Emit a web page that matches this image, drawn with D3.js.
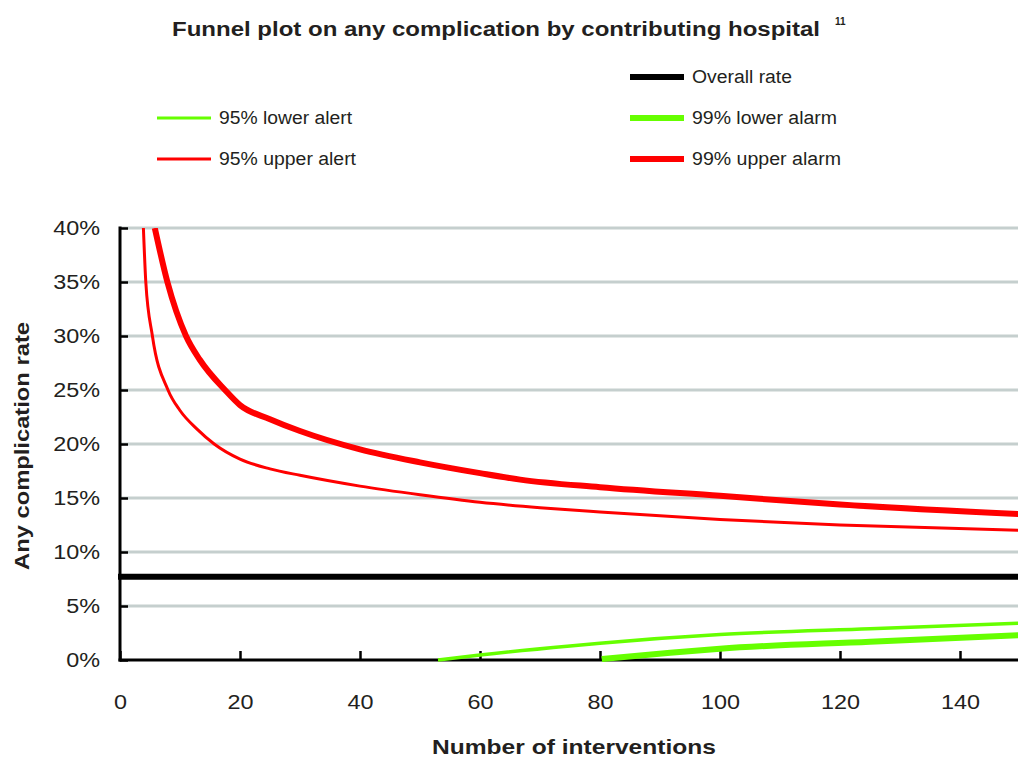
<!DOCTYPE html>
<html>
<head>
<meta charset="utf-8">
<script src="https://cdn.jsdelivr.net/npm/d3@7"></script>
<style>
  body { margin: 0; background: #fff; }
  text { font-family: "Liberation Sans", Arial, sans-serif; fill: #231f20; }
</style>
</head>
<body>
<svg id="chart" width="1018" height="758"></svg>
<script>
// ---- data (n = number of interventions, rate in %) ----
var overallRate = 7.7;

var upper95N    = [3.9, 4.3, 5.4, 8, 10, 12.8, 15.7, 20, 25, 30, 40, 50, 60, 70, 80, 100, 120, 150];
var upper95Rate = [40, 35, 30, 25, 23.1, 21.4, 20, 18.6, 17.7, 17.1, 16.1, 15.3, 14.6, 14.1, 13.7, 13.0, 12.5, 12.0];

var upper99N    = [5.8, 7.9, 11, 13.3, 17.5, 20, 25, 30, 40, 50, 60, 66.7, 80, 100, 120, 150];
var upper99Rate = [40, 35, 30, 27.8, 25, 23.6, 22.3, 21.2, 19.5, 18.3, 17.3, 16.7, 16.0, 15.2, 14.4, 13.5];

var lower95N    = [53, 60, 75, 80, 100, 125, 150];
var lower95Rate = [0, 0.46, 1.3, 1.55, 2.35, 2.9, 3.4];

var lower99N    = [80.3, 91.7, 100, 125, 150];
var lower99Rate = [0.1, 0.68, 1.05, 1.7, 2.3];

var xTickValues = [0, 20, 40, 60, 80, 100, 120, 140];
var yTickValues = [0, 5, 10, 15, 20, 25, 30, 35, 40];

var legendLabels = ["Overall rate", "95% lower alert", "95% upper alert", "99% lower alarm", "99% upper alarm"];

// ---- layout ----
var svg = d3.select("#chart");
var width = 1018;

var x = d3.scaleLinear().domain([0, 150]).range([120, 1020]);
var y = d3.scaleLinear().domain([0, 40]).range([660, 228]);

var red = "#ff0000";
var green = "#66ff00";

// the source picture is stretched sideways, so widen text to match
function stretch(sel, k) {
  sel.each(function() {
    var len = this.getComputedTextLength();
    d3.select(this)
      .attr("textLength", len * k)
      .attr("lengthAdjust", "spacingAndGlyphs");
  });
}
function fitWidth(sel, w) {
  sel.attr("textLength", w).attr("lengthAdjust", "spacingAndGlyphs");
}

// title
svg.append("text")
  .attr("x", 172)
  .attr("y", 36)
  .style("font-weight", "bold")
  .style("font-size", "20px")
  .text("Funnel plot on any complication by contributing hospital")
  .call(fitWidth, 648);
svg.append("text")
  .attr("x", 835)
  .attr("y", 25)
  .style("font-weight", "bold")
  .style("font-size", "10px")
  .text("11");

// legend
var legendItems = [
  { label: legendLabels[0], color: "#000", w: 6, lx: 630, ly: 77, tw: 100 },
  { label: legendLabels[1], color: green, w: 3, lx: 157, ly: 118, tw: 133 },
  { label: legendLabels[2], color: red, w: 3, lx: 157, ly: 159, tw: 137 },
  { label: legendLabels[3], color: green, w: 6, lx: 630, ly: 118, tw: 145 },
  { label: legendLabels[4], color: red, w: 6, lx: 630, ly: 159, tw: 149 }
];
var legend = svg.append("g");
legendItems.forEach(function(d) {
  legend.append("line")
    .attr("x1", d.lx).attr("x2", d.lx + 54)
    .attr("y1", d.ly).attr("y2", d.ly)
    .attr("stroke", d.color)
    .attr("stroke-width", d.w);
  legend.append("text")
    .attr("x", d.lx + 62)
    .attr("y", d.ly + 6)
    .style("font-size", "18px")
    .text(d.label)
    .call(fitWidth, d.tw);
});

// gridlines
svg.append("g")
  .selectAll("line")
  .data(yTickValues.filter(function(v) { return v > 0; }))
  .enter()
  .append("line")
  .attr("x1", 121)
  .attr("x2", width)
  .attr("y1", function(d) { return y(d); })
  .attr("y2", function(d) { return y(d); })
  .attr("stroke", "#c5cfce")
  .attr("stroke-width", 3);

// axes
var leftAxis = d3.axisLeft(y)
  .tickValues(yTickValues)
  .tickSize(-8)
  .tickSizeOuter(0)
  .tickPadding(20)
  .tickFormat(function(d) { return d + "%"; });
var bottomAxis = d3.axisBottom(x)
  .tickValues(xTickValues)
  .tickSize(-9)
  .tickSizeOuter(0)
  .tickPadding(35);

var yAxis = svg.append("g")
  .attr("transform", "translate(120,0)")
  .call(leftAxis);
var xAxis = svg.append("g")
  .attr("transform", "translate(0,660)")
  .call(bottomAxis);

[yAxis, xAxis].forEach(function(ax) {
  ax.select(".domain").attr("stroke", "#000").attr("stroke-width", 3);
  ax.selectAll(".tick line").attr("stroke", "#000").attr("stroke-width", 2.5);
  ax.selectAll(".tick text")
    .attr("fill", "#231f20")
    .style("font-size", "20px")
    .style("font-family", "\"Liberation Sans\", Arial, sans-serif")
    .call(stretch, 1.17);
});
yAxis.select(".domain").attr("d", "M0,226.5V661.5");
xAxis.select(".domain").attr("d", "M118.5,0H1018");

// axis titles
svg.append("text")
  .attr("x", 574)
  .attr("y", 754)
  .attr("text-anchor", "middle")
  .style("font-weight", "bold")
  .style("font-size", "21px")
  .text("Number of interventions")
  .call(fitWidth, 284);
svg.append("text")
  .attr("transform", "translate(29,446) rotate(-90)")
  .attr("text-anchor", "middle")
  .style("font-weight", "bold")
  .style("font-size", "21px")
  .text("Any complication rate")
  .call(fitWidth, 248);

// series
svg.append("clipPath").attr("id", "plotClip")
  .append("rect").attr("x", 118).attr("y", 228).attr("width", 910).attr("height", 436);
var plot = svg.append("g").attr("clip-path", "url(#plotClip)");

var line = d3.line()
  .x(function(d) { return x(d[0]); })
  .y(function(d) { return y(d[1]); })
  .curve(d3.curveMonotoneX);

function pairs(ns, rates) {
  return ns.map(function(n, i) { return [n, rates[i]]; });
}

plot.append("line")
  .attr("x1", 118).attr("x2", width)
  .attr("y1", y(overallRate)).attr("y2", y(overallRate))
  .attr("stroke", "#000").attr("stroke-width", 6);

var series = [
  { data: pairs(upper95N, upper95Rate), color: red, w: 3 },
  { data: pairs(upper99N, upper99Rate), color: red, w: 6 },
  { data: pairs(lower95N, lower95Rate), color: green, w: 3.5 },
  { data: pairs(lower99N, lower99Rate), color: green, w: 6 }
];
series.forEach(function(s) {
  plot.append("path")
    .datum(s.data)
    .attr("d", line)
    .attr("fill", "none")
    .attr("stroke", s.color)
    .attr("stroke-width", s.w);
});
</script>
</body>
</html>
